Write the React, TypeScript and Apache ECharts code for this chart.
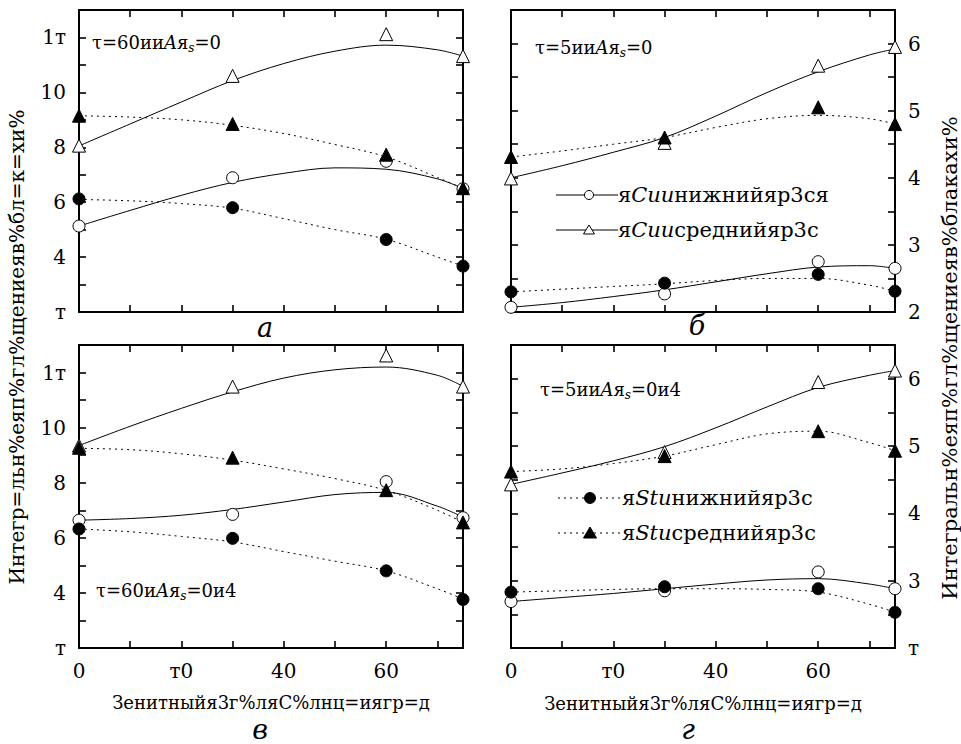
import React, { useEffect, useRef } from 'react';
import * as echarts from 'echarts';

// ---------- data ----------
const MARK_X = [0, 30, 60, 75];
const FIT_X = [0, 10, 20, 30, 40, 50, 60, 70, 75];

const X_TICK_LABELS: Record<string, string> = { '0': '0', '20': 'т0', '40': '40', '60': '60' };
const LEFT_Y_TICK_LABELS: Record<string, string> = { '2': 'т', '4': '4', '6': '6', '8': '8', '10': '10', '12': '1т' };
const TOP_RIGHT_Y_TICK_LABELS: Record<string, string> = { '2': '2', '3': '3', '4': '4', '5': '5', '6': '6' };
const BOTTOM_RIGHT_Y_TICK_LABELS: Record<string, string> = { '2': 'т', '3': '3', '4': '4', '5': '5', '6': '6' };

// panel а
const A_CU_LOW = [5.13, 6.89, 7.49, 6.49];
const A_CU_MID = [8.06, 10.6, 12.12, 11.32];
const A_ST_LOW = [6.12, 5.8, 4.64, 3.67];
const A_ST_MID = [9.15, 8.85, 7.73, 6.51];
const A_FIT_CU_LOW = [5.13, 5.7, 6.25, 6.72, 7.05, 7.25, 7.2, 6.85, 6.5];
const A_FIT_CU_MID = [8.05, 8.85, 9.65, 10.43, 11.05, 11.5, 11.72, 11.55, 11.32];
const A_FIT_ST_LOW = [6.1, 6.05, 5.95, 5.78, 5.4, 5.0, 4.65, 4.0, 3.67];
const A_FIT_ST_MID = [9.15, 9.1, 9.0, 8.8, 8.5, 8.1, 7.65, 6.9, 6.5];

// panel б
const B_CU_LOW = [2.07, 2.27, 2.75, 2.65];
const B_CU_MID = [3.99, 4.52, 5.67, 5.95];
const B_ST_LOW = [2.3, 2.43, 2.56, 2.31];
const B_ST_MID = [4.31, 4.6, 5.05, 4.8];
const B_FIT_CU_LOW = [2.07, 2.14, 2.23, 2.33, 2.45, 2.57, 2.67, 2.69, 2.65];
const B_FIT_CU_MID = [4.0, 4.18, 4.38, 4.6, 4.92, 5.27, 5.58, 5.83, 5.92];
const B_FIT_ST_LOW = [2.3, 2.34, 2.38, 2.42, 2.47, 2.5, 2.5, 2.4, 2.31];
const B_FIT_ST_MID = [4.31, 4.4, 4.5, 4.6, 4.75, 4.88, 4.93, 4.88, 4.8];

// panel в
const C_CU_LOW = [6.64, 6.85, 8.04, 6.73];
const C_CU_MID = [9.35, 11.49, 12.62, 11.49];
const C_ST_LOW = [6.32, 5.98, 4.8, 3.76];
const C_ST_MID = [9.27, 8.91, 7.73, 6.56];
const C_FIT_CU_LOW = [6.64, 6.7, 6.82, 7.03, 7.3, 7.57, 7.65, 7.15, 6.75];
const C_FIT_CU_MID = [9.35, 10.05, 10.7, 11.3, 11.8, 12.1, 12.2, 11.9, 11.5];
const C_FIT_ST_LOW = [6.32, 6.22, 6.05, 5.85, 5.5, 5.15, 4.8, 4.15, 3.78];
const C_FIT_ST_MID = [9.25, 9.2, 9.05, 8.82, 8.5, 8.15, 7.72, 7.0, 6.56];

// panel г
const D_CU_LOW = [2.69, 2.85, 3.13, 2.88];
const D_CU_MID = [4.43, 4.91, 5.95, 6.12];
const D_ST_LOW = [2.83, 2.91, 2.88, 2.53];
const D_ST_MID = [4.62, 4.85, 5.22, 4.93];
const D_FIT_CU_LOW = [2.69, 2.75, 2.81, 2.88, 2.95, 3.01, 3.03, 2.95, 2.88];
const D_FIT_CU_MID = [4.43, 4.6, 4.78, 4.99, 5.27, 5.58, 5.87, 6.05, 6.12];
const D_FIT_ST_LOW = [2.83, 2.85, 2.87, 2.88, 2.88, 2.87, 2.83, 2.65, 2.53];
const D_FIT_ST_MID = [4.62, 4.66, 4.74, 4.85, 5.02, 5.18, 5.22, 5.05, 4.93];

const X_TITLE = 'Зенитныйя3г%ляС%лнц=иягр=д';
const LEFT_TITLE = 'Интегр=льн%еяп%гл%щениеяв%бл=к=хи%';
const RIGHT_TITLE = 'Интегральн%еяп%гл%щениеяв%блакахи%';

// ---------- layout / style ----------
const FONT = 'DejaVu Serif';
const BLACK = '#000';

type Panel = {
  grid: { left: number; top: number; width: number; height: number };
  yMax: number;
  yInterval: number;
  yLabels: Record<string, string>;
  yLabelSide: 'left' | 'right';
  showX: boolean;
  marks: number[][];
  fits: number[][];
};

const PANELS: Panel[] = [
  {
    grid: { left: 79, top: 10, width: 384, height: 302 },
    yMax: 13, yInterval: 1, yLabels: LEFT_Y_TICK_LABELS, yLabelSide: 'left', showX: false,
    marks: [A_CU_LOW, A_CU_MID, A_ST_LOW, A_ST_MID],
    fits: [A_FIT_CU_LOW, A_FIT_CU_MID, A_FIT_ST_LOW, A_FIT_ST_MID],
  },
  {
    grid: { left: 511, top: 10, width: 384, height: 302 },
    yMax: 6.5, yInterval: 0.5, yLabels: TOP_RIGHT_Y_TICK_LABELS, yLabelSide: 'right', showX: false,
    marks: [B_CU_LOW, B_CU_MID, B_ST_LOW, B_ST_MID],
    fits: [B_FIT_CU_LOW, B_FIT_CU_MID, B_FIT_ST_LOW, B_FIT_ST_MID],
  },
  {
    grid: { left: 79, top: 345, width: 384, height: 303 },
    yMax: 13, yInterval: 1, yLabels: LEFT_Y_TICK_LABELS, yLabelSide: 'left', showX: true,
    marks: [C_CU_LOW, C_CU_MID, C_ST_LOW, C_ST_MID],
    fits: [C_FIT_CU_LOW, C_FIT_CU_MID, C_FIT_ST_LOW, C_FIT_ST_MID],
  },
  {
    grid: { left: 511, top: 345, width: 384, height: 303 },
    yMax: 6.5, yInterval: 0.5, yLabels: BOTTOM_RIGHT_Y_TICK_LABELS, yLabelSide: 'right', showX: true,
    marks: [D_CU_LOW, D_CU_MID, D_ST_LOW, D_ST_MID],
    fits: [D_FIT_CU_LOW, D_FIT_CU_MID, D_FIT_ST_LOW, D_FIT_ST_MID],
  },
];

// markers: Cu lower (open circle), Cu middle (open triangle), St lower (filled circle), St middle (filled triangle)
const MARK_STYLE = [
  { symbol: 'circle', size: 12, fill: '#fff' },
  { symbol: 'triangle', size: 13, fill: '#fff' },
  { symbol: 'circle', size: 12, fill: BLACK },
  { symbol: 'triangle', size: 13, fill: BLACK },
];
const FIT_DASH: any[] = ['solid', 'solid', [2, 4], [2, 4]];

const axisLine = { show: true, onZero: false, lineStyle: { color: BLACK, width: 2 } };
const axisTick = { show: true, inside: true, length: 7, lineStyle: { color: BLACK, width: 1.6 } };
const labelFont = { color: BLACK, fontFamily: FONT, fontSize: 20 };

function buildOption() {
  const grid: any[] = [];
  const xAxis: any[] = [];
  const yAxis: any[] = [];
  const series: any[] = [];

  PANELS.forEach((p, i) => {
    grid.push({ ...p.grid, containLabel: false });
    const xBase = {
      type: 'value', gridIndex: i, min: 0, max: 75, interval: 10,
      axisLine, axisTick, splitLine: { show: false },
    };
    xAxis.push({
      ...xBase, position: 'bottom',
      axisLabel: {
        show: p.showX, ...labelFont, margin: 13, interval: 0,
        formatter: (v: number) => X_TICK_LABELS[String(v)] ?? '',
      },
    });
    xAxis.push({ ...xBase, position: 'top', axisLabel: { show: false } });

    const yBase = {
      type: 'value', gridIndex: i, min: 2, max: p.yMax, interval: p.yInterval,
      axisLine, axisTick, splitLine: { show: false },
    };
    const yLabel = {
      show: true, ...labelFont, margin: 13, interval: 0,
      formatter: (v: number) => p.yLabels[String(v)] ?? '',
    };
    yAxis.push({ ...yBase, position: 'left', axisLabel: p.yLabelSide === 'left' ? yLabel : { show: false } });
    yAxis.push({ ...yBase, position: 'right', axisLabel: p.yLabelSide === 'right' ? yLabel : { show: false } });

    p.fits.forEach((vals, k) => {
      series.push({
        type: 'line', xAxisIndex: 2 * i, yAxisIndex: 2 * i,
        data: FIT_X.map((x, j) => [x, vals[j]]),
        smooth: 0.35, symbol: 'none', z: 2, silent: true,
        lineStyle: { color: BLACK, width: 1, type: FIT_DASH[k] },
      });
    });
    p.marks.forEach((vals, k) => {
      const m = MARK_STYLE[k];
      series.push({
        type: 'scatter', xAxisIndex: 2 * i, yAxisIndex: 2 * i,
        data: MARK_X.map((x, j) => [x, vals[j]]),
        symbol: m.symbol, symbolSize: m.size, z: 4, clip: false,
        itemStyle: { color: m.fill, borderColor: BLACK, borderWidth: 1, opacity: 1 },
      });
    });
  });

  const rich = {
    n: { fontFamily: FONT, fontSize: 18, color: BLACK },
    i: { fontFamily: FONT, fontSize: 18, color: BLACK, fontStyle: 'italic' },
    s: { fontFamily: FONT, fontSize: 12, color: BLACK, fontStyle: 'italic', padding: [12, 0, 0, 0] },
    l: { fontFamily: FONT, fontSize: 21, color: BLACK },
    li: { fontFamily: FONT, fontSize: 21, color: BLACK, fontStyle: 'italic' },
  };
  const txt = (x: number, y: number, text: string, extra: any = {}) => ({
    type: 'text', x, y, z: 10,
    style: {
      text, fill: BLACK, fontFamily: FONT, fontSize: 20, align: 'left', verticalAlign: 'middle',
      rich, ...extra,
    },
  });

  const legendRow = (y: number, x0: number, x1: number, mx: number, dashed: boolean, marker: any, text: string, tx: number) => [
    {
      type: 'line', z: 10,
      shape: { x1: x0, y1: y, x2: x1, y2: y },
      style: { stroke: BLACK, lineWidth: 1, lineDash: dashed ? [2, 4] : null },
    },
    { ...marker(mx, y) },
    txt(tx, y, text),
  ];
  const openCircle = (x: number, y: number) => ({ type: 'circle', z: 11, shape: { cx: x, cy: y, r: 4.5 }, style: { fill: '#fff', stroke: BLACK, lineWidth: 1 } });
  const openTri = (x: number, y: number) => ({ type: 'polygon', z: 11, shape: { points: [[x, y - 5], [x - 5.5, y + 4], [x + 5.5, y + 4]] }, style: { fill: '#fff', stroke: BLACK, lineWidth: 1 } });
  const fullCircle = (x: number, y: number) => ({ type: 'circle', z: 11, shape: { cx: x, cy: y, r: 5.5 }, style: { fill: BLACK, stroke: BLACK, lineWidth: 1 } });
  const fullTri = (x: number, y: number) => ({ type: 'polygon', z: 11, shape: { points: [[x, y - 6], [x - 6.5, y + 5], [x + 6.5, y + 5]] }, style: { fill: BLACK, stroke: BLACK, lineWidth: 1 } });

  const letter = { align: 'center', fontSize: 27, fontStyle: 'italic' };
  const graphic: any[] = [
    // annotations
    txt(92, 42, '{n|τ=60ии}{i|A}{n|я}{s|s}{n|=0}'),
    txt(535, 47, '{n|τ=5ии}{i|A}{n|я}{s|s}{n|=0}'),
    txt(96, 590, '{n|τ=60и}{i|A}{n|я}{s|s}{n|=0и4}'),
    txt(540, 389, '{n|τ=5ии}{i|A}{n|я}{s|s}{n|=0и4}'),
    // panel letters
    txt(265, 327, 'а', letter),
    txt(697, 325, 'б', letter),
    txt(260, 729, 'в', letter),
    txt(688, 729, 'г', letter),
    // x titles
    txt(271, 702, X_TITLE, { align: 'center', fontSize: 18 }),
    txt(703, 703, X_TITLE, { align: 'center', fontSize: 18 }),
    // y titles
    { ...txt(17, 347, LEFT_TITLE, { align: 'center', fontSize: 20 }), rotation: Math.PI / 2 },
    { ...txt(950, 358, RIGHT_TITLE, { align: 'center', fontSize: 21 }), rotation: Math.PI / 2 },
    // legends
    ...legendRow(195, 556, 618, 589, false, openCircle, '{l|я}{li|Cuи}{l|нижнийяр3ся}', 618),
    ...legendRow(230, 556, 618, 589, false, openTri, '{l|я}{li|Cuи}{l|среднийяр3с}', 618),
    ...legendRow(498, 558, 620, 590, true, fullCircle, '{l|я}{li|Stи}{l|нижнийяр3с}', 622),
    ...legendRow(533, 558, 620, 590, true, fullTri, '{l|я}{li|Stи}{l|среднийяр3с}', 622),
  ];

  return {
    animation: false,
    backgroundColor: '#fff',
    textStyle: { fontFamily: FONT },
    grid, xAxis, yAxis, series, graphic,
  };
}

export default function App() {
  const ref = useRef<HTMLDivElement>(null);
  useEffect(() => {
    if (!ref.current) return;
    const chart = echarts.init(ref.current, undefined, { renderer: 'svg' });
    chart.setOption(buildOption() as any);
    return () => chart.dispose();
  }, []);
  return (
    <div
      ref={ref}
      style={{ position: 'fixed', left: 0, top: 0, width: 961, height: 744, background: '#fff' }}
    />
  );
}
